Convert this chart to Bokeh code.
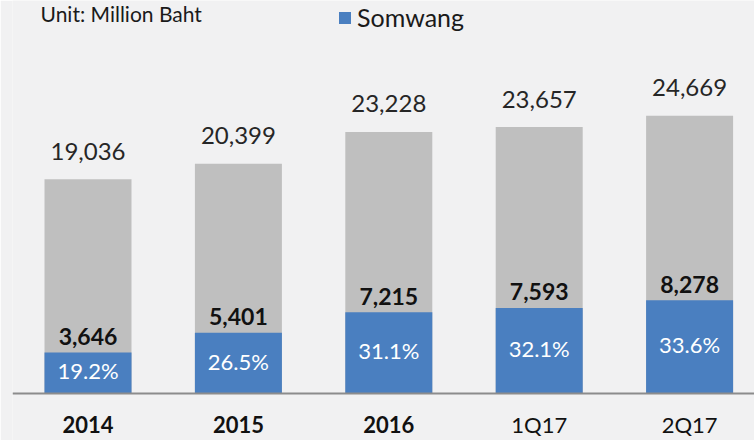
from bokeh.plotting import figure
from bokeh.models import ColumnDataSource, Range1d, Span, Label, Legend, LegendItem
from bokeh.core.properties import value
from bokeh.embed import file_html
from bokeh.resources import INLINE

# ---- data ----
periods = ["2014", "2015", "2016", "1Q17", "2Q17"]
total_market = [19036, 20399, 23228, 23657, 24669]
somwang = [3646, 5401, 7215, 7593, 8278]
share_labels = ["19.2%", "26.5%", "31.1%", "32.1%", "33.6%"]
period_styles = ["bold", "bold", "bold", "normal", "normal"]

FONT = "Lato"
BLUE = "#4a7fc0"
GRAY = "#bfbfbf"
BG = "#f1f1f2"

idx = list(range(len(periods)))
src = ColumnDataSource(dict(
    x=idx,
    period=periods,
    total=total_market,
    total_lbl=[f"{v:,}" for v in total_market],
    som=somwang,
    som_lbl=[f"{v:,}" for v in somwang],
    som_mid=[v / 2 for v in somwang],
    share=share_labels,
    pstyle=period_styles,
    zero=[0] * len(periods),
))

W, H = 754, 440
LEFT = 12
px_per_cat = 150.4
frame_w = W - LEFT
x0 = 75.5  # frame px of first category center
units_per_px = 88.8
base_px = 47  # baseline distance from bottom
y_start = -base_px * units_per_px
y_end = (H - base_px) * units_per_px

p = figure(width=W, height=H, output_backend="svg", toolbar_location=None,
           x_range=Range1d(-x0 / px_per_cat, (frame_w - x0) / px_per_cat),
           y_range=Range1d(y_start, y_end),
           min_border_left=LEFT, min_border_right=0, min_border_top=0, min_border_bottom=0,
           background_fill_color=BG, border_fill_color=BG, outline_line_color=None)
p.xaxis.visible = False
p.yaxis.visible = False
p.grid.visible = False

bw = 87 / px_per_cat
p.vbar(x="x", top="total", width=bw, source=src, fill_color=GRAY, line_color=None)
r_som = p.vbar(x="x", top="som", width=bw, source=src, fill_color=BLUE, line_color=None)

p.add_layout(Span(location=0, dimension="width", line_color="#8c8c8c", line_width=2))

# totals above bars
p.text(x="x", y="total", text="total_lbl", source=src, text_align="center",
       text_baseline="alphabetic", y_offset=-28, text_font=value(FONT),
       text_font_size="24px", text_color="#262626")
# somwang values
p.text(x="x", y="som", text="som_lbl", source=src, text_align="center",
       text_baseline="alphabetic", y_offset=-16, text_font=value(FONT),
       text_font_size="23px", text_font_style="bold", text_color="#111111")
# share percentages
p.text(x="x", y="som_mid", text="share", source=src, text_align="center",
       text_baseline="middle", y_offset=-2, text_font=value(FONT),
       text_font_size="22px", text_color="white")
# category labels
p.text(x="x", y="zero", text="period", source=src, text_align="center",
       text_baseline="alphabetic", y_offset=31, text_font=value(FONT),
       text_font_size="22px", text_font_style="pstyle", text_color="#111111")

p.add_layout(Label(x=28, y=H - 13, x_units="screen", y_units="screen",
                   text="Unit: Million Baht", text_font=FONT, text_font_size="21px",
                   text_color="#1a1a1a", text_baseline="alphabetic"))

legend = Legend(items=[LegendItem(label="Somwang", renderers=[r_som])],
                location=(325, H - 32), orientation="horizontal",
                glyph_width=15, glyph_height=15, padding=0, margin=0,
                label_text_font=FONT, label_text_font_size="25px",
                label_text_color="#1a1a1a", label_standoff=5,
                background_fill_alpha=0, border_line_color=None)
p.add_layout(legend)

open("out.html", "w").write(file_html(p, INLINE))
